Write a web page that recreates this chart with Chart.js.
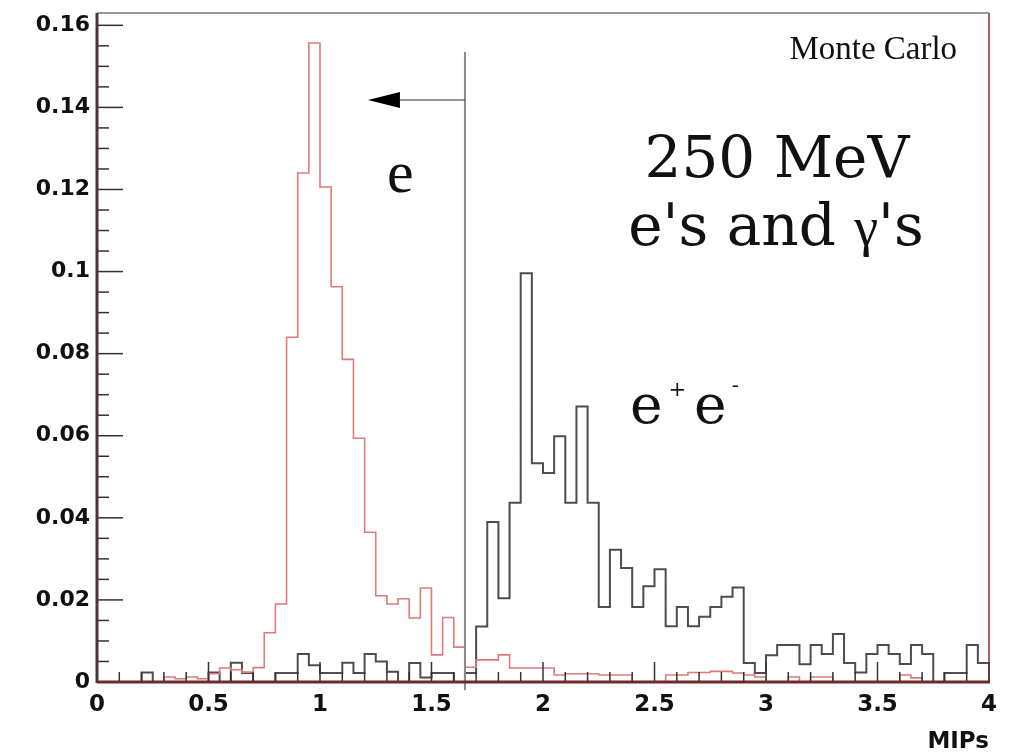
<!DOCTYPE html>
<html>
<head>
<meta charset="utf-8">
<script src="https://cdn.jsdelivr.net/npm/chart.js@4.4.0/dist/chart.umd.min.js"></script>
<style>
  html, body { margin: 0; padding: 0; background: #fff; }
  #wrap { width: 1014px; height: 754px; }
</style>
</head>
<body>
<div id="wrap"><canvas id="mipChart" width="1014" height="754"></canvas></div>
<script>
// Binning of the MIPs axis
const xRange = [0, 4];
const binWidth = 0.05;

// Single electrons (red), normalised, 80 bins of 0.05 MIPs
const electronCounts = [
  0, 0, 0, 0, 0, 0, 0.0012, 0.0008, 0.0012, 0.0008,
  0.002, 0.0034, 0.003, 0.0024, 0.0035, 0.012, 0.019, 0.084, 0.124, 0.1557,
  0.1206, 0.0963, 0.0786, 0.0594, 0.0365, 0.021, 0.019, 0.0203, 0.0156, 0.0229,
  0.0066, 0.0157, 0.0085, 0.0036, 0.0054, 0.0054, 0.0066, 0.0034, 0.0034, 0.0034,
  0.0034, 0.0017, 0.002, 0.002, 0.002, 0.0017, 0.0017, 0.0017, 0, 0,
  0, 0.0017, 0.0017, 0.0023, 0.0023, 0.0026, 0.0026, 0.0022, 0.0017, 0.0012,
  0, 0, 0.0012, 0, 0.0012, 0.0012, 0, 0, 0, 0,
  0, 0, 0.0017, 0.001, 0, 0, 0, 0, 0, 0
];

// Converted photons, e+e- pairs (black)
const pairCounts = [
  0, 0, 0, 0, 0.0023, 0, 0, 0, 0, 0,
  0.0023, 0, 0.0047, 0.0022, 0, 0, 0.0022, 0.0022, 0.0068, 0.0041,
  0.0022, 0.0022, 0.0047, 0.0022, 0.0068, 0.005, 0.0025, 0, 0.0046, 0.0011,
  0.0022, 0.0022, 0, 0.0022, 0.0135, 0.039, 0.0204, 0.0437, 0.0996, 0.0533,
  0.0509, 0.0599, 0.0437, 0.0671, 0.0437, 0.0183, 0.0322, 0.0278, 0.0183, 0.0233,
  0.0275, 0.0136, 0.0183, 0.0136, 0.0159, 0.0183, 0.0208, 0.023, 0.0046, 0.0022,
  0.0065, 0.009, 0.009, 0.0043, 0.009, 0.0068, 0.0117, 0.0046, 0.0023, 0.0068,
  0.009, 0.0068, 0.0044, 0.009, 0.0068, 0, 0.0022, 0.0022, 0.009, 0.0046
];

const yMax = 0.163;
const xTickValues = [0, 0.5, 1, 1.5, 2, 2.5, 3, 3.5, 4];
const xTickLabels = ['0', '0.5', '1', '1.5', '2', '2.5', '3', '3.5', '4'];
const yTickValues = [0, 0.02, 0.04, 0.06, 0.08, 0.1, 0.12, 0.14, 0.16];
const yTickLabels = ['0', '0.02', '0.04', '0.06', '0.08', '0.1', '0.12', '0.14', '0.16'];

// Electron selection cut
const cutValue = 1.65;

function histPoints(counts) {
  const pts = counts.map((v, i) => ({ x: xRange[0] + i * binWidth, y: v }));
  pts.push({ x: xRange[1], y: counts[counts.length - 1] });
  return pts;
}

// Frame, inward ticks (ROOT style) and the cut line with its arrow
const frameAndTicks = {
  id: 'frameAndTicks',
  afterDatasetsDraw(chart) {
    const { ctx, chartArea: a, scales: { x, y } } = chart;
    ctx.save();

    // cut line
    const cx = x.getPixelForValue(cutValue);
    ctx.strokeStyle = '#8a8a8a';
    ctx.lineWidth = 2;
    ctx.beginPath();
    ctx.moveTo(cx, y.getPixelForValue(0.1535));
    ctx.lineTo(cx, y.getPixelForValue(-0.002));
    ctx.stroke();

    // arrow pointing to the electron side
    const ay = y.getPixelForValue(0.1418);
    const tip = x.getPixelForValue(1.215);
    ctx.strokeStyle = '#333';
    ctx.lineWidth = 1.2;
    ctx.beginPath();
    ctx.moveTo(cx, ay);
    ctx.lineTo(tip + 20, ay);
    ctx.stroke();
    ctx.fillStyle = '#000';
    ctx.beginPath();
    ctx.moveTo(tip, ay);
    ctx.lineTo(tip + 32, ay - 8);
    ctx.lineTo(tip + 32, ay + 8);
    ctx.closePath();
    ctx.fill();

    // frame
    ctx.lineWidth = 2;
    ctx.strokeStyle = '#9a9a9a';
    ctx.beginPath();
    ctx.moveTo(a.left, a.top);
    ctx.lineTo(a.right, a.top);
    ctx.stroke();
    ctx.strokeStyle = '#a86060';
    ctx.beginPath();
    ctx.moveTo(a.right, a.top);
    ctx.lineTo(a.right, a.bottom);
    ctx.stroke();

    // x ticks: every 0.1, longer at 0.5
    ctx.strokeStyle = '#333';
    ctx.lineWidth = 1.5;
    for (let k = 0; k <= 40; k++) {
      const px = x.getPixelForValue(k * 0.1);
      const len = k % 5 === 0 ? 20 : 10;
      ctx.beginPath();
      ctx.moveTo(px, a.bottom);
      ctx.lineTo(px, a.bottom - len);
      ctx.stroke();
    }
    // y ticks: every 0.005, longer at 0.02
    for (let k = 0; k <= 32; k++) {
      const py = y.getPixelForValue(k * 0.005);
      const len = k % 4 === 0 ? 26 : 12;
      ctx.beginPath();
      ctx.moveTo(a.left, py);
      ctx.lineTo(a.left + len, py);
      ctx.stroke();
    }

    // axis lines
    ctx.lineWidth = 3;
    ctx.strokeStyle = '#4a3434';
    ctx.beginPath();
    ctx.moveTo(a.left, a.top);
    ctx.lineTo(a.left, a.bottom + 1);
    ctx.stroke();
    ctx.strokeStyle = '#6e2a2a';
    ctx.beginPath();
    ctx.moveTo(a.left, a.bottom);
    ctx.lineTo(a.right + 1, a.bottom);
    ctx.stroke();
    ctx.restore();
  }
};

// Draws a run of [text, font, rise, gapBefore] pieces from px, returns the end x
function drawRun(ctx, pieces, px, base, measureOnly) {
  for (const [t, font, rise, gap] of pieces) {
    px += gap || 0;
    ctx.font = font;
    if (!measureOnly) ctx.fillText(t, px, base - rise);
    px += ctx.measureText(t).width;
  }
  return px;
}

// Text labels placed in data coordinates
const plotText = {
  id: 'plotText',
  afterDraw(chart) {
    const { ctx, scales: { x, y } } = chart;
    ctx.save();
    ctx.fillStyle = '#111';
    ctx.textBaseline = 'alphabetic';

    ctx.font = '33px "Liberation Serif"';
    ctx.textAlign = 'right';
    ctx.fillText('Monte Carlo', x.getPixelForValue(3.857), y.getPixelForValue(0.1518));

    ctx.font = '58px "DejaVu Serif"';
    ctx.textAlign = 'center';
    ctx.fillText('250 MeV', x.getPixelForValue(3.049), y.getPixelForValue(0.123));

    ctx.textAlign = 'left';
    const serif = '58px "DejaVu Serif"';
    const line2 = [["e's and ", serif, 0], ['\u03b3', '54px "Liberation Serif"', 0], ["'s", serif, 0]];
    const w2 = drawRun(ctx, line2, 0, 0, true);
    drawRun(ctx, line2, x.getPixelForValue(3.045) - w2 / 2, y.getPixelForValue(0.1065), false);

    ctx.font = '60px "Liberation Serif"';
    ctx.fillText('e', x.getPixelForValue(1.30), y.getPixelForValue(0.1194));

    // e+ e- with raised charge signs
    const big = '55px "DejaVu Serif"';
    const small = '21px "DejaVu Serif"';
    drawRun(ctx, [['e', big, 0], ['+', small, 27, 6], ['e', big, 0, 8], ['-', small, 31, 5]],
            x.getPixelForValue(2.39), y.getPixelForValue(0.0631), false);
    ctx.restore();
  }
};

const ctx = document.getElementById('mipChart').getContext('2d');
new Chart(ctx, {
  type: 'line',
  data: {
    datasets: [
      {
        label: 'e',
        data: histPoints(electronCounts),
        stepped: 'before',
        borderColor: '#e07a7a',
        borderWidth: 1.6,
        pointRadius: 0,
        fill: false,
        order: 1
      },
      {
        label: 'e+e-',
        data: histPoints(pairCounts),
        stepped: 'before',
        borderColor: '#4d4d4d',
        borderWidth: 2,
        pointRadius: 0,
        fill: false,
        order: 2
      }
    ]
  },
  options: {
    responsive: false,
    animation: false,
    layout: { padding: { left: 0, top: 13, right: 25, bottom: 0 } },
    plugins: {
      legend: { display: false },
      tooltip: { enabled: false }
    },
    scales: {
      x: {
        type: 'linear',
        min: xRange[0],
        max: xRange[1],
        afterBuildTicks: s => { s.ticks = xTickValues.map(v => ({ value: v })); },
        afterFit: s => { s.height = 72; s.paddingLeft = 0; s.paddingRight = 0; },
        grid: { display: false, drawTicks: false },
        border: { display: false },
        ticks: {
          autoSkip: false,
          maxRotation: 0,
          padding: 9,
          color: '#111',
          font: { family: 'DejaVu Sans', weight: 'bold', size: 23 },
          callback: (v, i) => xTickLabels[i]
        },
        title: {
          display: true,
          text: 'MIPs',
          align: 'end',
          color: '#111',
          padding: { top: 0, bottom: -2 },
          font: { family: 'DejaVu Sans', weight: 'bold', size: 23 }
        }
      },
      y: {
        type: 'linear',
        min: 0,
        max: yMax,
        afterBuildTicks: s => { s.ticks = yTickValues.map(v => ({ value: v })); },
        afterFit: s => { s.width = 97; s.paddingTop = 0; s.paddingBottom = 0; },
        grid: { display: false, drawTicks: false },
        border: { display: false },
        ticks: {
          autoSkip: false,
          padding: 7,
          color: '#111',
          font: { family: 'DejaVu Sans', weight: 'bold', size: 22 },
          callback: (v, i) => yTickLabels[i]
        }
      }
    }
  },
  plugins: [frameAndTicks, plotText]
});
</script>
</body>
</html>
